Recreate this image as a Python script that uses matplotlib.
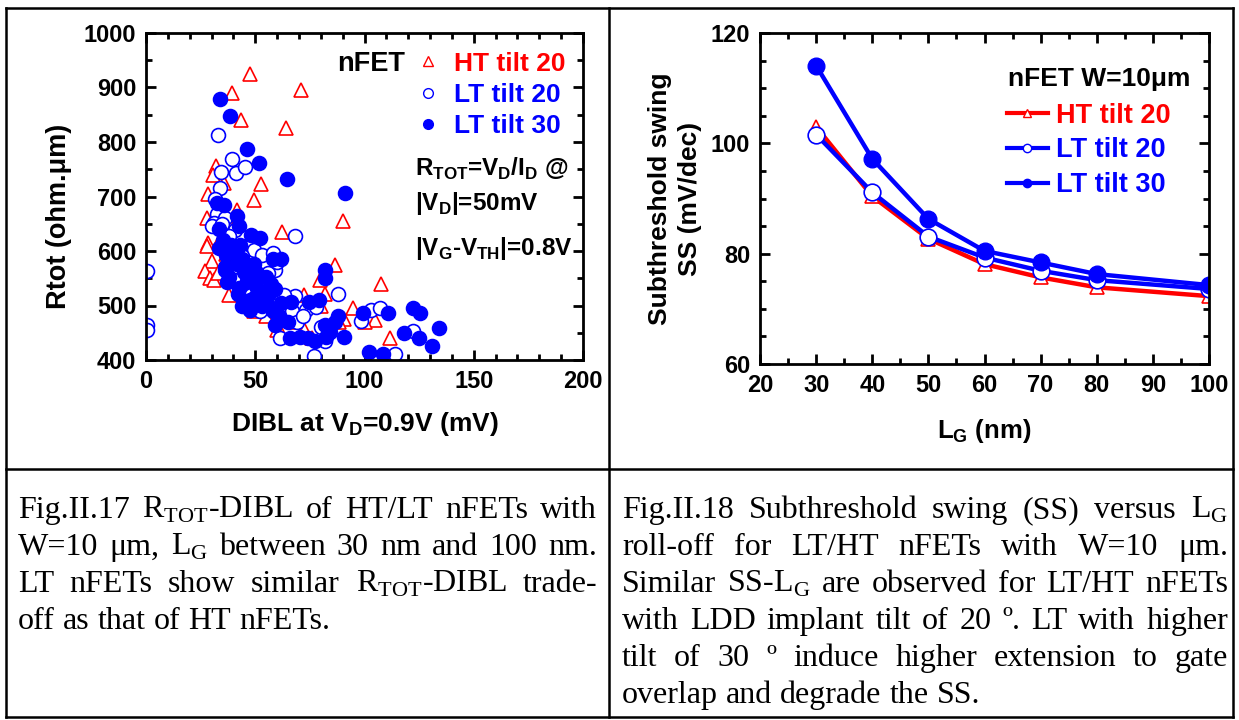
import matplotlib
matplotlib.use('Agg')
import matplotlib.pyplot as plt
from matplotlib.lines import Line2D
from matplotlib.ticker import MultipleLocator

plt.rcParams['font.family'] = ['Liberation Sans', 'DejaVu Sans']
plt.rcParams['font.weight'] = 'bold'
plt.rcParams['mathtext.fontset'] = 'custom'
plt.rcParams['mathtext.rm'] = 'Liberation Serif:weight=normal'
plt.rcParams['mathtext.bf'] = 'Liberation Sans:bold'
plt.rcParams['axes.linewidth'] = 2.0

# ---- Fig.II.17 : Rtot vs DIBL ----
ht20_dibl = [47.5, 39.5, 71, 43.3, 64, 32, 30.5, 35.5, 52.8, 49.6, 28.3, 41.7, 27.8, 62.4, 90,
             28.3, 28, 30, 27.2, 29.5, 31, 86.3, 107.5, 82, 72.2, 94.8, 105, 111.8, 90.5, 49.5,
             42, 79.5, 62, 72.5, 88.5, 33, 36.5, 40, 44, 38, 55, 57, 46, 68, 80, 34, 45, 60,
             76, 100, 65]
ht20_rtot = [924, 890, 895, 840, 826, 756, 739, 724, 723, 694, 704, 675, 660, 635, 655,
             614, 610, 582, 563, 550, 547, 574, 540, 522, 520, 496, 473, 440, 475, 489,
             522, 547, 450, 456, 470, 560, 595, 640, 600, 520, 480, 505, 530, 470, 500, 620, 560, 455,
             440, 470, 515]

lt20_dibl = [0.5, 0.5, 0.5, 33, 39.5, 34.4, 41, 45.5, 34, 31.4, 32.6, 30.9, 30, 36, 68, 49.4,
             53, 58, 59, 68, 88, 73, 66.7, 77.7, 98.5, 103, 107, 122, 61.4, 77, 114, 82, 47.7,
             52, 56.5, 69, 40.6, 46, 44, 38, 56, 51, 63, 72, 80, 35, 60, 43, 48]
lt20_rtot = [564, 464, 455, 813, 768, 745, 743, 754, 715, 695, 668, 651, 645, 660, 627, 602,
             593, 596, 565, 517, 522, 492, 489, 498, 471, 492, 496, 454, 440, 407, 411, 434, 492,
             489, 510, 470, 638, 571, 590, 628, 560, 540, 520, 480, 460, 650, 580, 548, 520]

lt30_dibl = [34, 38.3, 46, 51.7, 64.4, 91.3, 32.7, 35.7, 41.8, 42.7, 33.5, 48, 52.4, 35.3, 39,
             43, 33.5, 36.7, 57.9, 62, 41.5, 49.4, 36.2, 45, 38, 47.7, 54.7, 82, 81.7, 59, 37,
             42.7, 50.3, 42, 47.7, 54.7, 62, 66.2, 74.7, 79, 47.7, 58.3, 61, 65, 59, 86.5, 88,
             82, 84, 82.6, 90.4, 99.2, 110.7, 122, 125.5, 118, 124.8, 131, 134, 70.6, 74, 77.3,
             102, 108.6, 66, 40, 44, 51, 56, 36, 53, 46, 50, 55, 57, 44]
lt30_rtot = [878, 847, 788, 762, 732, 707, 688, 684, 664, 645, 641, 629, 623, 620, 611,
             611, 605, 593, 586, 585, 577, 577, 571, 562, 553, 553, 552, 566, 550, 531, 544,
             533, 535, 522, 510, 507, 504, 507, 507, 510, 492, 489, 480, 470, 464, 470, 480,
             464, 452, 443, 443, 486, 486, 495, 486, 449, 440, 425, 458, 443, 440, 434,
             414, 411, 440, 600, 585, 560, 520, 565, 500, 545, 515, 525, 540, 500]

# ---- Fig.II.18 : SS vs LG ----
lg_nm = [30, 40, 50, 60, 70, 80, 100]
ss_ht20 = [103.0, 90.4, 82.7, 78.1, 75.7, 73.9, 72.3]
ss_lt20 = [101.6, 91.1, 83.1, 79.3, 76.9, 75.2, 73.6]
ss_lt30 = [114.1, 97.2, 86.3, 80.5, 78.4, 76.3, 74.3]

series_labels = ['HT tilt 20', 'LT tilt 20', 'LT tilt 30']

RED = '#ff0000'
BLUE = '#0000ff'

W, H = 1239, 720
fig = plt.figure(figsize=(W / 100, H / 100), dpi=100)


def px_axes(x0, y0, x1, y1):
    return fig.add_axes([x0 / W, 1 - y1 / H, (x1 - x0) / W, (y1 - y0) / H])


def style_axis(ax):
    ax.tick_params(which='both', direction='in', top=True, right=True, width=2,
                   labelsize=17, pad=7)
    ax.tick_params(which='major', length=7)
    ax.tick_params(which='minor', length=4)
    for lab in ax.get_xticklabels() + ax.get_yticklabels():
        lab.set_fontweight('bold')


# left panel
ax1 = px_axes(146, 33, 583, 360)
ax1.plot(ht20_dibl, ht20_rtot, ls='none', marker='^', ms=10, mfc='white', mec=RED, mew=1.2)
ax1.plot(lt20_dibl, lt20_rtot, ls='none', marker='o', ms=10, mfc='white', mec=BLUE, mew=1.2)
ax1.plot(lt30_dibl, lt30_rtot, ls='none', marker='o', ms=10, mfc=BLUE, mec=BLUE, mew=1.2)
ax1.set_xlim(0, 200)
ax1.set_ylim(400, 1000)
ax1.xaxis.set_major_locator(MultipleLocator(50))
ax1.xaxis.set_minor_locator(MultipleLocator(10))
ax1.yaxis.set_major_locator(MultipleLocator(100))
ax1.yaxis.set_minor_locator(MultipleLocator(50))
style_axis(ax1)
ax1.set_xlabel(r'DIBL at V$_{\mathbf{D}}$=0.9V (mV)', fontsize=19, fontweight='bold')
ax1.set_ylabel('Rtot (ohm.μm)', fontsize=19.5, fontweight='bold')
ax1.xaxis.set_label_coords(0.5, -0.153)
ax1.yaxis.set_label_coords(-0.17, 0.44)

h1 = [Line2D([], [], ls='none', marker='^', ms=7, mfc='white', mec=RED, mew=1),
      Line2D([], [], ls='none', marker='o', ms=7, mfc='white', mec=BLUE, mew=1),
      Line2D([], [], ls='none', marker='o', ms=7, mfc=BLUE, mec=BLUE)]
ax1.legend(h1, series_labels, loc='upper right', bbox_to_anchor=(0.96, 0.943),
           frameon=False, borderpad=0, borderaxespad=0, handlelength=0.8,
           handletextpad=0.6, labelspacing=0.28,
           prop={'size': 19, 'weight': 'bold'}, labelcolor=[RED, BLUE, BLUE])
ax1.text(0.437, 0.905, 'nFET', transform=ax1.transAxes, fontsize=19.5, fontweight='bold',
         va='center', ha='left')
ax1.text(0.615, 0.585, r'R$_{\mathbf{TOT}}$=V$_{\mathbf{D}}$/I$_{\mathbf{D}}$ @',
         transform=ax1.transAxes, fontsize=17.5, fontweight='bold', va='center')
ax1.text(0.615, 0.478, r'|V$_{\mathbf{D}}$|=50mV', transform=ax1.transAxes,
         fontsize=17.5, fontweight='bold', va='center')
ax1.text(0.615, 0.34, r'|V$_{\mathbf{G}}$-V$_{\mathbf{TH}}$|=0.8V', transform=ax1.transAxes,
         fontsize=17.5, fontweight='bold', va='center')

# right panel
ax2 = px_axes(760, 33, 1209, 364)
ax2.plot(lg_nm, ss_ht20, color=RED, lw=3.2, marker='^', ms=10, mfc='white', mec=RED, mew=1.2)
ax2.plot(lg_nm, ss_lt20, color=BLUE, lw=3.2, marker='o', ms=12, mfc='white', mec=BLUE, mew=1.2)
ax2.plot(lg_nm, ss_lt30, color=BLUE, lw=3.2, marker='o', ms=12, mfc=BLUE, mec=BLUE)
ax2.set_xlim(20, 100)
ax2.set_ylim(60, 120)
ax2.xaxis.set_major_locator(MultipleLocator(10))
ax2.xaxis.set_minor_locator(MultipleLocator(5))
ax2.yaxis.set_major_locator(MultipleLocator(20))
ax2.yaxis.set_minor_locator(MultipleLocator(5))
style_axis(ax2)
ax2.set_xlabel(r'L$_{\mathbf{G}}$ (nm)', fontsize=18.5, fontweight='bold')
ax2.set_ylabel('Subthreshold swing\nSS (mV/dec)', fontsize=19, fontweight='bold',
               linespacing=1.3)
ax2.xaxis.set_label_coords(0.5, -0.16)
ax2.yaxis.set_label_coords(-0.13, 0.5)

h2 = [Line2D([], [], color=RED, lw=3, marker='^', ms=6, mfc='white', mec=RED, mew=1),
      Line2D([], [], color=BLUE, lw=3, marker='o', ms=6, mfc='white', mec=BLUE, mew=1),
      Line2D([], [], color=BLUE, lw=3, marker='o', ms=6, mfc=BLUE, mec=BLUE)]
ax2.legend(h2, series_labels, loc='upper left', bbox_to_anchor=(0.55, 0.79),
           frameon=False, borderpad=0, borderaxespad=0, handlelength=1.5, numpoints=1,
           handletextpad=0.3, labelspacing=0.33,
           prop={'size': 19.5, 'weight': 'bold'}, labelcolor=[RED, BLUE, BLUE])
ax2.text(0.552, 0.862, 'nFET W=10μm', transform=ax2.transAxes, fontsize=19,
         fontweight='bold', va='center', ha='left')

# table frame
frame_kw = dict(color='black', lw=1.8, transform=fig.transFigure)
for xs, ys in [((6, 1233), (8, 8)), ((6, 1233), (717, 717)), ((6, 6), (8, 717)),
               ((1233, 1233), (8, 717)), ((609, 609), (8, 717)), ((6, 1233), (469, 469))]:
    fig.add_artist(Line2D([x / W for x in xs], [1 - y / H for y in ys], **frame_kw))

# captions (justified)
renderer = fig.canvas.get_renderer()
CAP_SIZE = 23


def caption_line(text, x0, x1, y, justify=True):
    words = text.split(' ')
    items = [fig.text(0, 1 - y / H, w, fontsize=CAP_SIZE, family='Liberation Serif',
                      fontweight='normal', va='baseline', ha='left') for w in words]
    widths = [t.get_window_extent(renderer).width for t in items]
    space = 0.25 * CAP_SIZE * 100 / 72
    gap = space
    if justify and len(words) > 1:
        gap = ((x1 - x0) - sum(widths)) / (len(words) - 1)
        if gap < 0.4 * space:
            # too long: shrink the whole line a little
            scale = (x1 - x0 - 0.4 * space * (len(words) - 1)) / sum(widths)
            for t in items:
                t.set_fontsize(CAP_SIZE * scale)
            widths = [w * scale for w in widths]
            gap = 0.4 * space
    x = x0
    for t, w in zip(items, widths):
        t.set_x(x / W)
        x += w + gap


left_caption = [
    r'Fig.II.17 R$_{\mathrm{TOT}}$-DIBL of HT/LT nFETs with',
    r'W=10 μm, L$_{\mathrm{G}}$ between 30 nm and 100 nm.',
    r'LT nFETs show similar R$_{\mathrm{TOT}}$-DIBL trade-',
    'off as that of HT nFETs.',
]
right_caption = [
    r'Fig.II.18 Subthreshold swing (SS) versus L$_{\mathrm{G}}$',
    'roll-off for LT/HT nFETs with W=10 μm.',
    r'Similar SS-L$_{\mathrm{G}}$ are observed for LT/HT nFETs',
    'with LDD implant tilt of 20 º. LT with higher',
    'tilt of 30 º induce higher extension to gate',
    'overlap and degrade the SS.',
]
for i, line in enumerate(left_caption):
    caption_line(line, 18, 597, 518 + 37 * i, justify=i < len(left_caption) - 1)
for i, line in enumerate(right_caption):
    caption_line(line, 622, 1228, 518 + 37 * i, justify=i < len(right_caption) - 1)

fig.savefig('out.png', dpi=100)
